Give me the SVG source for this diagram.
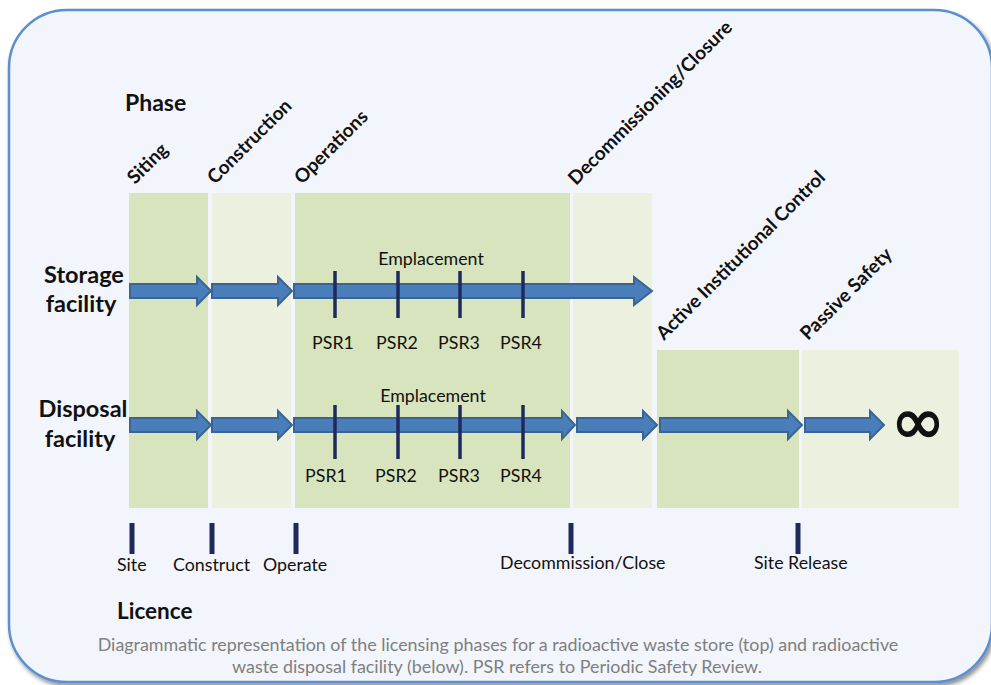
<svg xmlns="http://www.w3.org/2000/svg" width="991" height="685" viewBox="0 0 991 685">
  <style>
    .lbl { font-family: Lato, "Liberation Sans", sans-serif; fill: #111; }
    .b { font-weight: bold; }
    .phase { font-family: Lato, "Liberation Sans", sans-serif; font-weight: bold; font-size: 19px; fill: #111; }
    .row { font-family: Lato, "Liberation Sans", sans-serif; font-weight: bold; font-size: 23.5px; fill: #111; text-anchor: middle; }
    .psr { font-family: Lato, "Liberation Sans", sans-serif; font-size: 17.8px; fill: #111; text-anchor: middle; }
    .lic { font-family: Lato, "Liberation Sans", sans-serif; font-size: 17.8px; fill: #111; }
    .dark { fill: #d7e4bd; }
    .light { fill: #ebf1de; }
    .arrow { fill: #4a7ebb; stroke: #3a6494; stroke-width: 2; stroke-linejoin: miter; }
    .tick { stroke: #1f2a5c; stroke-width: 3.5; }
    .ltick { stroke: #1f2a5c; stroke-width: 5; }
    .cap { font-family: Lato, "Liberation Sans", sans-serif; font-size: 17.9px; fill: #7f7f7f; text-anchor: middle; }
  </style>
  <defs>
    <filter id="shadow" x="-5%" y="-5%" width="112%" height="112%">
      <feDropShadow dx="2" dy="3" stdDeviation="2" flood-color="#000" flood-opacity="0.45"/>
    </filter>
  </defs>

  <!-- page background and rounded frame -->
  <rect x="0" y="0" width="991" height="685" fill="#ffffff"/>
  <rect x="9" y="10" width="983" height="672" rx="58" ry="58" fill="#f2f5fb" stroke="#5b8fd0" stroke-width="2.5" filter="url(#shadow)"/>

  <!-- headings -->
  <text class="lbl b" x="125" y="111" font-size="23">Phase</text>
  <text class="lbl b" x="117" y="619" font-size="22.5">Licence</text>

  <!-- phase columns -->
  <g id="siting">
    <rect class="dark" x="129" y="193" width="79" height="315"/>
    <text class="phase" transform="translate(135,185) rotate(-45)">Siting</text>
  </g>
  <g id="construction">
    <rect class="light" x="212" y="193" width="79" height="315"/>
    <text class="phase" transform="translate(215,185) rotate(-45)">Construction</text>
  </g>
  <g id="operations">
    <rect class="dark" x="295" y="193" width="275" height="315"/>
    <text class="phase" transform="translate(302,185) rotate(-45)">Operations</text>
  </g>
  <g id="decommissioning">
    <rect class="light" x="573" y="193" width="79" height="315"/>
    <text class="phase" transform="translate(576,186) rotate(-45)">Decommissioning/Closure</text>
  </g>
  <g id="active-control">
    <rect class="dark" x="657" y="350" width="142" height="158"/>
    <text class="phase" transform="translate(664,341) rotate(-45)">Active Institutional Control</text>
  </g>
  <g id="passive-safety">
    <rect class="light" x="802" y="350" width="157" height="158"/>
    <text class="phase" transform="translate(808,341) rotate(-45)">Passive Safety</text>
  </g>

  <!-- row labels -->
  <g id="storage-label">
    <text class="row" x="84" y="283">Storage</text>
    <text class="row" x="81" y="312">facility</text>
  </g>
  <g id="disposal-label">
    <text class="row" x="83" y="417">Disposal</text>
    <text class="row" x="80" y="447">facility</text>
  </g>

  <!-- phase arrows -->
  <g id="connectors">
    <!-- storage facility, centre line y=291 -->
    <path class="arrow" d="M130,284 H197 V277 L211,291 L197,305 V298 H130 Z"/>
    <path class="arrow" d="M212,284 H278 V277 L292,291 L278,305 V298 H212 Z"/>
    <path class="arrow" d="M294,284 H634 V277 L652,291 L634,305 V298 H294 Z"/>
    <!-- disposal facility, centre line y=425 -->
    <path class="arrow" d="M130,418 H197 V411 L211,425 L197,439 V432 H130 Z"/>
    <path class="arrow" d="M212,418 H278 V411 L292,425 L278,439 V432 H212 Z"/>
    <path class="arrow" d="M294,418 H562 V411 L575,425 L562,439 V432 H294 Z"/>
    <path class="arrow" d="M577,418 H643 V411 L657,425 L643,439 V432 H577 Z"/>
    <path class="arrow" d="M660,418 H788 V411 L802,425 L788,439 V432 H660 Z"/>
    <path class="arrow" d="M805,418 H870 V411 L884,425 L870,439 V432 H805 Z"/>
  </g>

  <g id="infinity">
    <text x="918" y="444" font-size="66" text-anchor="middle" font-family="'DejaVu Sans', sans-serif" fill="#111" stroke="#111" stroke-width="1.4">∞</text>
  </g>

  <!-- periodic safety reviews: storage -->
  <g id="storage-psr">
    <text class="psr" x="431" y="265">Emplacement</text>
    <line class="tick" x1="335" y1="271" x2="335" y2="318"/>
    <line class="tick" x1="398" y1="271" x2="398" y2="318"/>
    <line class="tick" x1="460" y1="271" x2="460" y2="318"/>
    <line class="tick" x1="523" y1="271" x2="523" y2="318"/>
    <text class="psr" x="333" y="349">PSR1</text>
    <text class="psr" x="397" y="349">PSR2</text>
    <text class="psr" x="459" y="349">PSR3</text>
    <text class="psr" x="521" y="349">PSR4</text>
  </g>

  <!-- periodic safety reviews: disposal -->
  <g id="disposal-psr">
    <text class="psr" x="433" y="402">Emplacement</text>
    <line class="tick" x1="335" y1="405" x2="335" y2="459"/>
    <line class="tick" x1="398" y1="405" x2="398" y2="459"/>
    <line class="tick" x1="460" y1="405" x2="460" y2="459"/>
    <line class="tick" x1="523" y1="405" x2="523" y2="459"/>
    <text class="psr" x="326" y="482">PSR1</text>
    <text class="psr" x="396" y="482">PSR2</text>
    <text class="psr" x="459" y="482">PSR3</text>
    <text class="psr" x="521" y="482">PSR4</text>
  </g>

  <!-- licence milestones -->
  <g id="licences">
    <line class="ltick" x1="132" y1="523" x2="132" y2="554"/>
    <line class="ltick" x1="212" y1="523" x2="212" y2="554"/>
    <line class="ltick" x1="296" y1="523" x2="296" y2="554"/>
    <line class="ltick" x1="571" y1="523" x2="571" y2="554"/>
    <line class="ltick" x1="798" y1="523" x2="798" y2="554"/>
    <text class="lic" x="117" y="571">Site</text>
    <text class="lic" x="173" y="571">Construct</text>
    <text class="lic" x="263" y="571">Operate</text>
    <text class="lic" x="500" y="569">Decommission/Close</text>
    <text class="lic" x="754" y="569">Site Release</text>
  </g>

  <!-- caption -->
  <text class="cap" x="498" y="651">Diagrammatic representation of the licensing phases for a radioactive waste store (top) and radioactive</text>
  <text class="cap" x="497" y="673">waste disposal facility (below). PSR refers to Periodic Safety Review.</text>
</svg>
